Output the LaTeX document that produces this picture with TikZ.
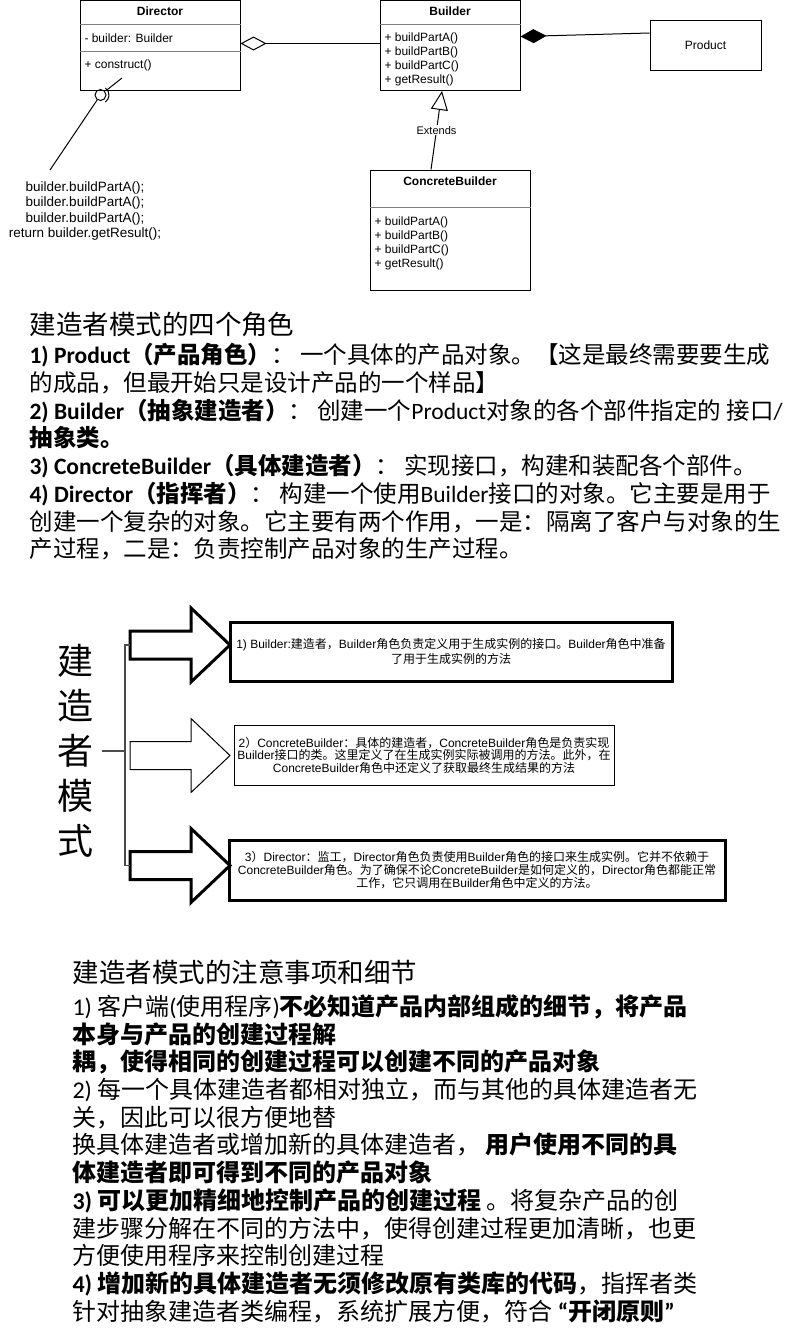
\documentclass[tikz,border=0pt]{standalone}
\usepackage{fontspec}
\setmainfont{Liberation Sans}
\newfontfamily\cjk{Noto Sans CJK SC}
\newfontfamily\calib{Carlito}
\usetikzlibrary{positioning,arrows.meta}
\newcommand{\en}[1]{{\rmfamily #1}}
\newcommand{\la}[1]{{\calib #1}}

\begin{document}
\begin{tikzpicture}[x=1pt,y=-1pt,line width=1pt]
	\tikzstyle{cls}=[draw, inner sep=0pt]
	\tikzstyle{sep}=[gray, line width=0.8pt]
	\tikzstyle{lbl}=[inner sep=0pt, anchor=west, font=\fontsize{12}{14}\selectfont]
	\tikzstyle{ttl}=[inner sep=0pt, font=\bfseries\fontsize{12}{14}\selectfont]
	\tikzstyle{para}=[inner sep=0pt, anchor=north west, align=left]
	\tikzstyle{role}=[draw, inner sep=2pt, align=center]
	\tikzset{pics/bigarrow/.style={code={
		\draw[pic actions] (0,-14) -- (61,-14) -- (61,-37) -- (100,0) -- (61,37) -- (61,14) -- (0,14) -- cycle;
		\coordinate (-tail) at (0,0);}}}
	\fill[white] (0,0) rectangle (808,1336);
	\useasboundingbox (0,0) rectangle (808,1336);
		\node[cls, minimum width=160pt, minimum height=90pt] (director) at (160,45.5) {};
		\node[ttl] (director_t) at (160,11) {Director};
		\draw[sep] ([yshift=-24pt]director.north west) -- ([yshift=-24pt]director.north east);
		\draw[sep] ([yshift=-51pt]director.north west) -- ([yshift=-51pt]director.north east);
		\node[lbl] (director_a) at (84,38) {- builder: Builder};
		\node[lbl] (director_m) at (84,65) {+ construct()};
		\node[cls, minimum width=140pt, minimum height=90pt] (builder) at (450,45.5) {};
		\node[ttl] (builder_t) at (450,11) {Builder};
		\draw[sep] ([yshift=-24pt]builder.north west) -- ([yshift=-24pt]builder.north east);
		\foreach \m [count=\i] in {buildPartA(), buildPartB(), buildPartC(), getResult()}
			\node[lbl] (builder_\i) at (384,24+14*\i) {+ \m};
		\node[cls, minimum width=111pt, minimum height=50pt, font=\fontsize{12}{14}\selectfont] (product) at (705.5,45) {Product};
		\node[cls, minimum width=160pt, minimum height=120pt] (concrete) at (450,230) {};
		\node[ttl] (concrete_t) at (450,181) {ConcreteBuilder};
		\draw[sep] ([yshift=-38pt]concrete.north west) -- ([yshift=-38pt]concrete.north east);
		\foreach \m [count=\i] in {buildPartA(), buildPartB(), buildPartC(), getResult()}
			\node[lbl] (concrete_\i) at (374,208+14*\i) {+ \m};
			\draw[{Diamond[open,length=26pt,width=14pt]}-] ([yshift=2pt]director.east) -- ([yshift=2pt]builder.west);
			\draw[{Diamond[length=26pt,width=14pt]}-] ([yshift=9pt]builder.east) -- ([yshift=12pt]product.west);
			\draw[-{Triangle[open,length=19pt,width=17pt]}] ([xshift=-19pt]concrete.north) -- node[fill=white, inner sep=1pt, font=\fontsize{11}{13}\selectfont] {Extends} ([xshift=-8pt]builder.south);
		\node[circle, draw, inner sep=0pt, minimum size=11pt] (lolli) at (100.5,95) {};
		\coordinate (cons_end) at (122,78);
		\coordinate (note_tip) at (50,170);
			\draw ([shift={(55:8.5pt)}]lolli.center) arc[start angle=55, end angle=-55, radius=8.5pt];
			\draw[shorten >=8.5pt] (cons_end) -- (lolli.center);
			\draw (lolli) -- (note_tip);
		\node[align=center, inner sep=0pt, font=\fontsize{13.5}{15.5}\selectfont] (note) at (85,211) {builder.buildPartA();\\builder.buildPartA();\\builder.buildPartA();\\return builder.getResult();};

		\node[para, font=\cjk\fontsize{26.5}{30}\selectfont] (roles_t) at (29,312) {建造者模式的四个角色};
		\node[para, font=\cjk\fontsize{23.5}{27.7}\selectfont] (roles) at (29,343) {\textbf{\la{1) Product}（产品角色）}： 一个具体的产品对象。【这是最终需要要生成\\
			的成品，但最开始只是设计产品的一个样品】\\
			\textbf{\la{2) Builder}（抽象建造者）}： 创建一个\la{Product}对象的各个部件指定的 接口\la{/}\\
			\textbf{抽象类。}\\
			\textbf{\la{3) ConcreteBuilder}（具体建造者）}： 实现接口，构建和装配各个部件。\\
			\textbf{\la{4) Director}（指挥者）}： 构建一个使用\la{Builder}接口的对象。它主要是用于\\
			创建一个复杂的对象。它主要有两个作用，一是：隔离了客户与对象的生\\
			产过程，二是：负责控制产品对象的生产过程。};

		\node[font=\cjk\fontsize{36}{45}\selectfont, align=center, inner xsep=8pt, inner ysep=0pt] (kind) at (75,751) {建\\造\\者\\模\\式};
		\coordinate (brk) at (125,751);
		\pic[line width=3pt] (arr1) at (130,645) {bigarrow};
		\pic (arr2) at (130,755.5) {bigarrow};
		\pic[line width=3pt] (arr3) at (130,865.5) {bigarrow};
			\draw[gray!60!black, line width=1.5pt] (arr1-tail) -| (brk) |- (arr3-tail);
			\draw[gray!60!black, line width=1.5pt] (kind) -- (brk);
		\node[role, line width=3pt, minimum width=442pt, minimum height=59pt, font=\cjk\fontsize{12}{15.5}\selectfont] (role_b) at (451,651.5) {\en{1) Builder:}建造者，\en{Builder}角色负责定义用于生成实例的接口。\en{Builder}角色中准备\\了用于生成实例的方法};
		\node[role, minimum width=380pt, minimum height=60pt, font=\cjk\fontsize{12}{12.5}\selectfont] (role_c) at (424,755) {\en{2}）\en{ConcreteBuilder}：具体的建造者，\en{ConcreteBuilder}角色是负责实现\\\en{Builder}接口的类。这里定义了在生成实例实际被调用的方法。此外，在\\\en{ConcreteBuilder}角色中还定义了获取最终生成结果的方法};
		\node[role, line width=3pt, minimum width=496pt, minimum height=60pt, font=\cjk\fontsize{12}{13}\selectfont] (role_d) at (477,870) {\en{3}）\en{Director}：监工，\en{Director}角色负责使用\en{Builder}角色的接口来生成实例。它并不依赖于\\\en{ConcreteBuilder}角色。为了确保不论\en{ConcreteBuilder}是如何定义的，\en{Director}角色都能正常\\工作，它只调用在\en{Builder}角色中定义的方法。};

		\node[para, font=\cjk\fontsize{26.5}{30}\selectfont] (notes_t) at (72,959.5) {建造者模式的注意事项和细节};
		\node[para, font=\cjk\fontsize{24}{27.7}\selectfont] (notes) at (72,994) {\la{1) }客户端\la{(}使用程序\la{)}\textbf{不必知道产品内部组成的细节，将产品}\\
			\textbf{本身与产品的创建过程解}\\
			\textbf{耦，使得相同的创建过程可以创建不同的产品对象}\\
			\la{2) }每一个具体建造者都相对独立，而与其他的具体建造者无\\
			关，因此可以很方便地替\\
			换具体建造者或增加新的具体建造者， \textbf{用户使用不同的具}\\
			\textbf{体建造者即可得到不同的产品对象}\\
			\textbf{\la{3) }可以更加精细地控制产品的创建过程} 。将复杂产品的创\\
			建步骤分解在不同的方法中，使得创建过程更加清晰，也更\\
			方便使用程序来控制创建过程\\
			\textbf{\la{4) }增加新的具体建造者无须修改原有类库的代码}，指挥者类\\
			针对抽象建造者类编程，系统扩展方便，符合 \textbf{\la{“}开闭原则\la{”}}};
\end{tikzpicture}
\end{document}
